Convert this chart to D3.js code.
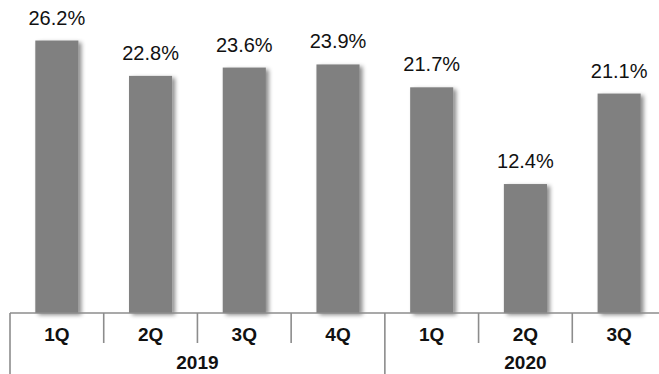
<!DOCTYPE html>
<html>
<head>
<meta charset="utf-8">
<script src="https://cdn.jsdelivr.net/npm/d3@7/dist/d3.min.js"></script>
<style>
  html, body { margin: 0; padding: 0; background: #fff; }
  svg { display: block; font-family: Arial, "Liberation Sans", sans-serif; }
</style>
</head>
<body>
<svg id="chart" width="659" height="374"></svg>
<script>
// Quarterly ratio, two fiscal years
const quarters = ["1Q", "2Q", "3Q", "4Q", "1Q", "2Q", "3Q"];
const years = ["2019", "2019", "2019", "2019", "2020", "2020", "2020"];
const values = [26.2, 22.8, 23.6, 23.9, 21.7, 12.4, 21.1];
const yearGroups = ["2019", "2020"];

const svg = d3.select("#chart");
const W = 659, H = 374;
const baseY = 313;
const left = 10, right = 666;

const idx = d3.range(values.length);
const x = d3.scaleBand().domain(idx).range([left, right])
  .paddingInner(0.54).paddingOuter(0.27);
const step = x.step();
const y = d3.scaleLinear().domain([0, 30]).range([baseY, 1]);

// soft shadow on the bars
const defs = svg.append("defs");
const f = defs.append("filter").attr("id", "shadow")
  .attr("x", "-20%").attr("y", "-10%").attr("width", "150%").attr("height", "130%");
f.append("feDropShadow").attr("dx", 3).attr("dy", 2).attr("stdDeviation", 2)
  .attr("flood-color", "#000").attr("flood-opacity", 0.45);

svg.append("g").selectAll("rect").data(idx).join("rect")
  .attr("x", i => x(i))
  .attr("y", i => y(values[i]))
  .attr("width", x.bandwidth())
  .attr("height", i => baseY - y(values[i]))
  .attr("fill", "#808080")
  .attr("filter", "url(#shadow)");

// value labels
svg.append("g").selectAll("text").data(idx).join("text")
  .attr("x", i => x(i) + x.bandwidth() / 2)
  .attr("y", i => y(values[i]) - 16)
  .attr("text-anchor", "middle")
  .attr("font-size", 20)
  .attr("fill", "#111")
  .text(i => values[i].toFixed(1) + "%");

// category axis
const axis = svg.append("g").attr("stroke", "#8c8c8c").attr("stroke-width", 1.6);
axis.append("line").attr("x1", left).attr("x2", W).attr("y1", baseY).attr("y2", baseY);
idx.forEach(i => {
  const bx = left + i * step;
  const groupStart = i === 0 || years[i] !== years[i - 1];
  axis.append("line").attr("x1", bx).attr("x2", bx)
    .attr("y1", baseY).attr("y2", groupStart ? H : baseY + 30);
});

svg.append("g").selectAll("text").data(idx).join("text")
  .attr("x", i => left + (i + 0.5) * step)
  .attr("y", baseY + 28)
  .attr("text-anchor", "middle")
  .attr("font-size", 19)
  .attr("font-weight", "bold")
  .attr("fill", "#111")
  .text(i => quarters[i]);

svg.append("g").selectAll("text").data(yearGroups).join("text")
  .attr("x", g => {
    const members = idx.filter(i => years[i] === g);
    return left + (d3.min(members) + (d3.max(members) + 1)) / 2 * step;
  })
  .attr("y", baseY + 56)
  .attr("text-anchor", "middle")
  .attr("font-size", 19)
  .attr("font-weight", "bold")
  .attr("fill", "#111")
  .text(g => g);
</script>
</body>
</html>
